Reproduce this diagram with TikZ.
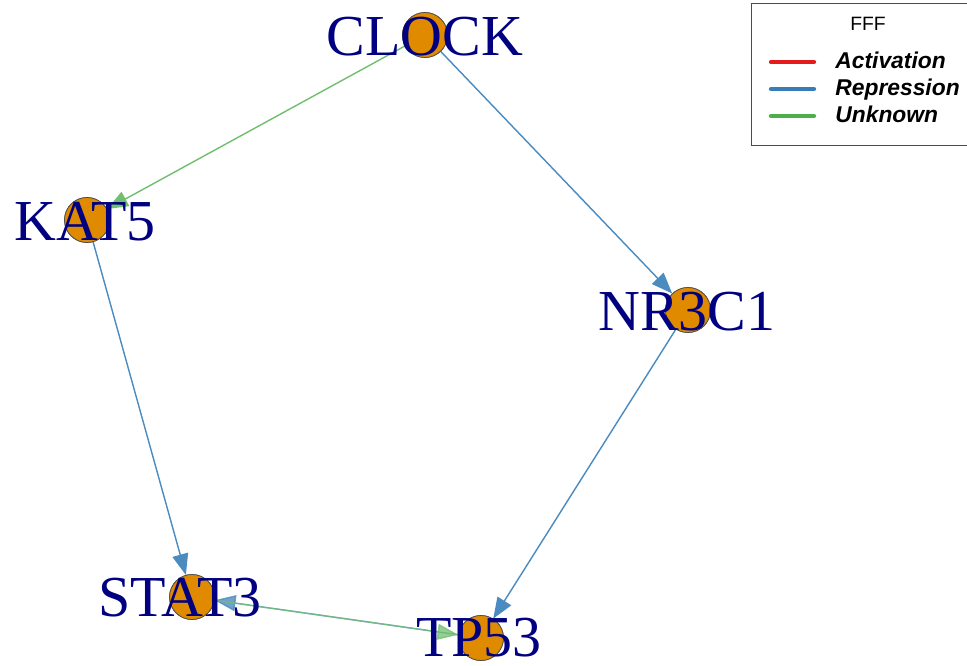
\documentclass[tikz,border=0pt]{standalone}
\usepackage{fontspec}
\setmainfont{Liberation Serif}
\newfontfamily\legendfont{Liberation Sans}
\definecolor{geneNavy}{RGB}{0, 0, 128}
\definecolor{geneOrange}{RGB}{224, 138, 0}
\definecolor{actRed}{RGB}{228, 26, 28}
\definecolor{repBlue}{RGB}{55, 126, 184}
\definecolor{unkGreen}{RGB}{77, 175, 74}
\usepackage{tikz}
\usetikzlibrary{positioning, arrows.meta}

\begin{document}
\begin{tikzpicture}[
    x=0.02cm, y=-0.02cm,
    gene/.style={circle, draw=black!70, fill=geneOrange, thin,
                 minimum size=0.9cm, inner sep=0pt},
    genelabel/.style={text=geneNavy, font=\fontsize{33}{36}\selectfont,
                      inner sep=0pt},
    repress/.style={-{Triangle[length=0.42cm, width=0.32cm]},
                    draw=repBlue!90, fill=repBlue!90, line width=0.8pt},
    unknown/.style={-{Triangle[length=0.42cm, width=0.32cm]},
                    draw=unkGreen!80, fill=unkGreen!80, line width=0.8pt},
    keyline/.style={line width=2.4pt, line cap=round},
    keytext/.style={font=\legendfont\fontsize{13}{15}\selectfont\bfseries\itshape,
                    anchor=base west, inner sep=0pt}
  ]
    \useasboundingbox (0,0) rectangle (967,666);

    % Genes
    \node[gene] (CLOCK) at (425,35) {};
    \node[gene] (KAT5) at (87,220) {};
    \node[gene] (NR3C1) at (688,310) {};
    \node[gene] (STAT3) at (192,597) {};
    \node[gene] (TP53) at (481,638) {};

    % Edges
    \draw[unknown] (CLOCK) -- (KAT5);
    \draw[repress] (CLOCK) -- (NR3C1);
    \draw[repress] (KAT5) -- (STAT3);
    \draw[repress] (NR3C1) -- (TP53);
    \draw[repress, opacity=0.8] (TP53) -- (STAT3);
    \draw[unknown, opacity=0.75] (STAT3) -- (TP53);

    % redraw genes on top of edges
    \foreach \g in {CLOCK, KAT5, NR3C1, STAT3, TP53}
      \node[gene] at (\g) {};

    % Labels
    \node[genelabel] (CLOCKlbl) at (425,37) {CLOCK};
    \node[genelabel] (KAT5lbl) at (85,222) {KAT5};
    \node[genelabel] (NR3C1lbl) at (687,312) {NR3C1};
    \node[genelabel] (STAT3lbl) at (180,598) {STAT3};
    \node[genelabel] (TP53lbl) at (479,638) {TP53};

    % Legend
    \draw[black!70, thin] (751,3) rectangle (967,145);
    \node[font=\legendfont\fontsize{11}{13}\selectfont] (keytitle) at (868,24) {FFF};
    \coordinate (a0) at (771,62);
    \coordinate (a1) at (814,62);
    \coordinate (r0) at (771,89);
    \coordinate (r1) at (814,89);
    \coordinate (u0) at (771,116);
    \coordinate (u1) at (814,116);
    \draw[keyline, actRed] (a0) -- (a1);
    \draw[keyline, repBlue] (r0) -- (r1);
    \draw[keyline, unkGreen] (u0) -- (u1);
    \node[keytext] (acttext) at (835,68) {Activation};
    \node[keytext] (reptext) at (835,95) {Repression};
    \node[keytext] (unktext) at (835,122) {Unknown};
  \end{tikzpicture}
\end{document}
